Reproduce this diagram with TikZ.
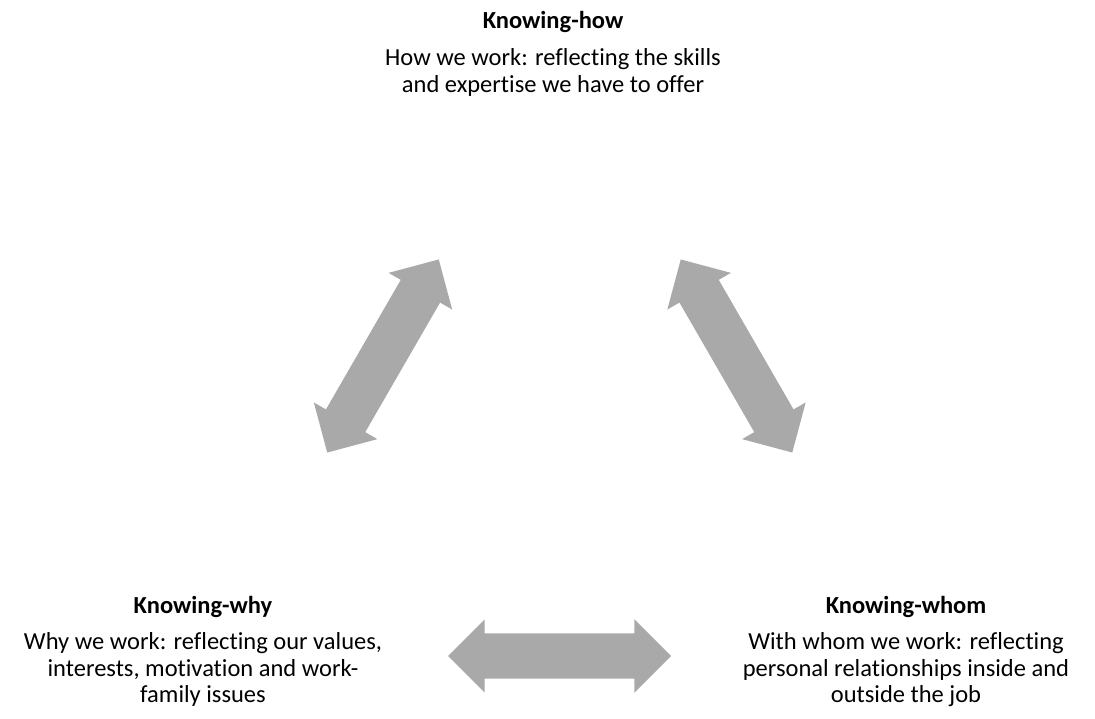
\documentclass[tikz,border=0pt]{standalone}
\usepackage{fontspec}
\setmainfont{Carlito}[Ligatures=NoCommon]
\usetikzlibrary{positioning,shapes.arrows}

\definecolor{linkGrey}{RGB}{169,169,169}

\begin{document}
\begin{tikzpicture}[x=1pt, y=1pt]

    %
    % Styles for careers, and the arrows linking them
    %
    \tikzstyle{careerName} = [anchor=base, inner sep=0pt, text=black,
                              font={\fontsize{24.5}{26.8}\selectfont\bfseries}]
    \tikzstyle{careerText} = [inner sep=0pt, align=center, text=black,
                              font={\fontsize{24.5}{26.8}\selectfont}]
    \tikzstyle{link} = [double arrow, fill=linkGrey, inner xsep=0pt, inner ysep=22.5pt,
                        minimum height=223pt, minimum width=73pt,
                        double arrow head extend=14pt];

    \useasboundingbox (0,0) rectangle (1095,718);

    %
    % Position careers
    %
    \node[careerName, name=howName] at (553,689) {Knowing-how};
    \node[careerText, name=howText, below=19pt of howName.base]
      {How we work: reflecting the skills\\and expertise we have to offer};

    \node[careerName, name=whyName] at (203,105) {Knowing-why};
    \node[careerText, name=whyText, below=19pt of whyName.base]
      {Why we work: reflecting our values,\\interests, motivation and work-\\family issues};

    \node[careerName, name=whomName] at (906,105) {Knowing-whom};
    \node[careerText, name=whomText, below=19pt of whomName.base]
      {With whom we work: reflecting\\personal relationships inside and\\outside the job};

    %
    % Link careers via double arrows
    %
    \node[link, rotate=60, name=howWhy] at (383,362) {};
    \node[link, rotate=-60, name=howWhom] at (736.5,362) {};
    \node[link, name=whyWhom] at (559.5,62) {};
\end{tikzpicture}
\end{document}
